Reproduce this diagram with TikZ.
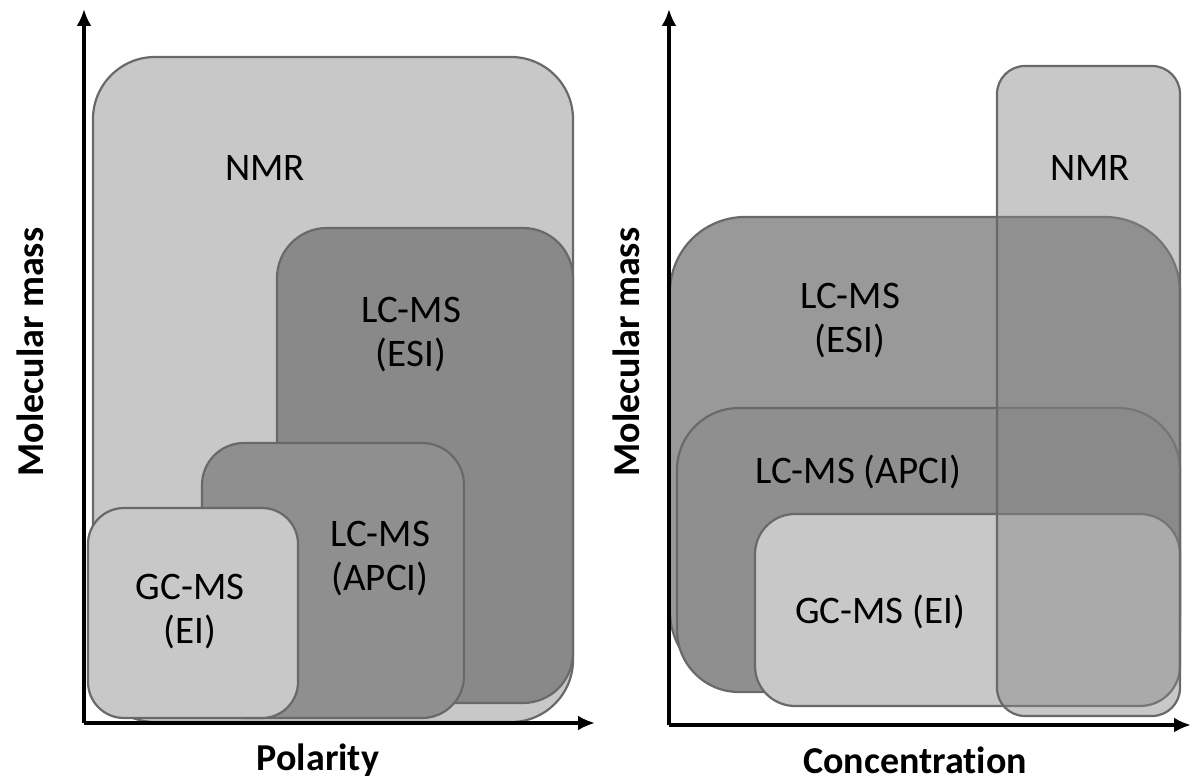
\documentclass[tikz,border=0pt]{standalone}
\usepackage{fontspec}
\setmainfont[Ligatures=NoCommon]{Carlito}
\usetikzlibrary{arrows.meta}
\definecolor{lightbox}{RGB}{200,200,200}
\definecolor{darkbox}{RGB}{137,137,137}
\definecolor{midbox}{RGB}{143,143,143}
\definecolor{esiR}{RGB}{153,153,153}
\definecolor{nmrR}{RGB}{134,134,134}
\definecolor{edge}{RGB}{105,105,105}
\tikzset{
  boxline/.style={draw=edge, line width=2.2pt},
  lbl/.style={font=\fontsize{39}{44}\selectfont, align=center, inner sep=0pt},
  axlbl/.style={font=\fontsize{38}{44}\selectfont\bfseries, inner sep=0pt},
  axis/.style={line width=4pt, -{Latex[length=17pt,width=15pt]}}
}
\begin{document}
\begin{tikzpicture}[x=1pt,y=-1pt]
\useasboundingbox (0,0) rectangle (1191,783);
% ---------- left panel ----------
\draw[boxline, fill=lightbox, rounded corners=62pt] (93,57) rectangle (573,722);
\draw[boxline, fill=darkbox, rounded corners=50pt] (277,228) rectangle (573,703);
\draw[boxline, fill=midbox, rounded corners=42pt] (202,443) rectangle (464,718);
\draw[boxline, fill=lightbox, rounded corners=36pt] (88,508) rectangle (298,718);
\node[lbl] (nmrL) at (265,168) {NMR};
\node[lbl] (esiL) at (411,335) {LC-MS\\(ESI)};
\node[lbl] (apciL) at (380,559) {LC-MS\\(APCI)};
\node[lbl] (gcL) at (190,612) {GC-MS\\(EI)};
\coordinate (oL) at (84,723);
\coordinate (yL) at (84,9);
\coordinate (xL) at (595,723);
\draw[axis] (oL) -- (yL);
\draw[axis] (oL) -- (xL);
\node[axlbl] (polL) at (318,760) {Polarity};
\node[axlbl, rotate=90] (mmL) at (30,352) {Molecular mass};
% ---------- right panel ----------
\draw[boxline, fill=esiR, rounded corners=75pt] (670,217) rectangle (1180,686);
\draw[boxline, fill=midbox, rounded corners=62pt] (677,408) rectangle (1180,692);
\draw[boxline, fill=lightbox, rounded corners=40pt] (755,514) rectangle (1180,706);
\draw[boxline, fill=nmrR, fill opacity=0.45, rounded corners=28pt] (997,66) rectangle (1180,716);
\node[lbl] (nmrR) at (1090,168) {NMR};
\node[lbl] (esiR) at (850,321) {LC-MS\\(ESI)};
\node[lbl] (apciR) at (858,472) {LC-MS (APCI)};
\node[lbl] (gcR) at (880,612) {GC-MS (EI)};
\coordinate (oR) at (669,725);
\coordinate (yR) at (669,9);
\coordinate (xR) at (1191,725);
\draw[axis] (oR) -- (yR);
\draw[axis] (oR) -- (xR);
\node[axlbl] (conR) at (915,760) {Concentration};
\node[axlbl, rotate=90] (mmR) at (626,352) {Molecular mass};
\end{tikzpicture}
\end{document}
